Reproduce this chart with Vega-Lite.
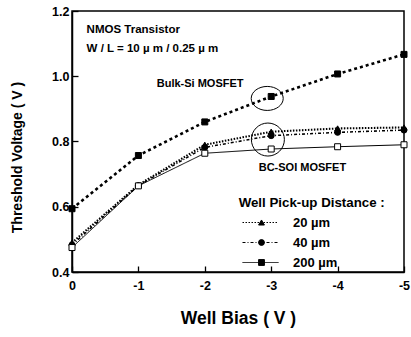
{
  "$schema": "https://vega.github.io/schema/vega-lite/v6.json",
  "width": 332,
  "height": 261,
  "autosize": {"type": "none"},
  "padding": {"left": 72, "top": 11, "right": 7, "bottom": 65},
  "background": "white",
  "config": {
    "view": {"stroke": "black", "strokeWidth": 1.5},
    "font": "Liberation Sans",
    "axis": {"domainColor": "black", "domainWidth": 1.5, "tickColor": "black", "labelColor": "black", "titleColor": "black", "grid": false, "labelFont": "Liberation Sans", "titleFont": "Liberation Sans"}
  },
  "resolve": {"legend": {"shape": "independent"}},
  "datasets": {
    "curves": [
      {"series": "Bulk-Si MOSFET", "bias": 0, "vth": 0.594},
      {"series": "Bulk-Si MOSFET", "bias": -1, "vth": 0.757},
      {"series": "Bulk-Si MOSFET", "bias": -2, "vth": 0.860},
      {"series": "Bulk-Si MOSFET", "bias": -3, "vth": 0.938},
      {"series": "Bulk-Si MOSFET", "bias": -4, "vth": 1.007},
      {"series": "Bulk-Si MOSFET", "bias": -5, "vth": 1.067},
      {"series": "20 µm", "bias": 0, "vth": 0.490},
      {"series": "20 µm", "bias": -1, "vth": 0.667},
      {"series": "20 µm", "bias": -2, "vth": 0.790},
      {"series": "20 µm", "bias": -3, "vth": 0.830},
      {"series": "20 µm", "bias": -4, "vth": 0.840},
      {"series": "20 µm", "bias": -5, "vth": 0.843},
      {"series": "40 µm", "bias": 0, "vth": 0.483},
      {"series": "40 µm", "bias": -1, "vth": 0.665},
      {"series": "40 µm", "bias": -2, "vth": 0.782},
      {"series": "40 µm", "bias": -3, "vth": 0.818},
      {"series": "40 µm", "bias": -4, "vth": 0.828},
      {"series": "40 µm", "bias": -5, "vth": 0.835},
      {"series": "200 µm", "bias": 0, "vth": 0.475},
      {"series": "200 µm", "bias": -1, "vth": 0.664},
      {"series": "200 µm", "bias": -2, "vth": 0.764},
      {"series": "200 µm", "bias": -3, "vth": 0.777},
      {"series": "200 µm", "bias": -4, "vth": 0.784},
      {"series": "200 µm", "bias": -5, "vth": 0.790}
    ],
    "notesLeft": [
      {"bias": -0.22, "vth": 1.141, "label": "NMOS Transistor"},
      {"bias": -0.22, "vth": 1.082, "label": "W / L = 10 µ m / 0.25 µ m"}
    ],
    "legendTitle": [
      {"bias": -2.51, "vth": 0.611, "label": "Well Pick-up Distance :"}
    ],
    "notesCenter": [
      {"bias": -1.93, "vth": 0.975, "label": "Bulk-Si MOSFET"},
      {"bias": -3.47, "vth": 0.720, "label": "BC-SOI MOSFET"}
    ],
    "ellipse": [{"bias": -2.94, "vth": 0.932}],
    "circle": [{"bias": -2.95, "vth": 0.806}]
  },
  "layer": [
    {
      "data": {"name": "curves"},
      "mark": {"type": "line", "color": "black"},
      "encoding": {
        "x": {
          "field": "bias", "type": "quantitative",
          "scale": {"domain": [0, -5], "nice": false, "zero": false},
          "axis": {
            "title": "Well Bias ( V )",
            "titleFontSize": 17.5, "titleFontWeight": "bold", "titlePadding": 18,
            "values": [0, -0.5, -1, -1.5, -2, -2.5, -3, -3.5, -4, -4.5, -5],
            "labelExpr": "datum.value % 1 === 0 ? (datum.value === 0 ? '0' : '-' + abs(datum.value)) : ''",
            "labelFontSize": 12.5, "labelFontWeight": "bold", "labelPadding": 13,
            "labelFlush": false,
            "tickSize": {"condition": {"test": "datum.value % 1 === 0", "value": -6}, "value": -3},
            "tickWidth": 1.3
          }
        },
        "y": {
          "field": "vth", "type": "quantitative",
          "scale": {"domain": [0.4, 1.2], "nice": false, "zero": false},
          "axis": {
            "title": "Threshold Voltage ( V )",
            "titleFontSize": 14, "titleFontWeight": "bold", "titlePadding": 27,
            "titleY": 146,
            "values": [0.4, 0.5, 0.6, 0.7, 0.8, 0.9, 1.0, 1.1, 1.2],
            "labelExpr": "round(datum.value * 10) % 2 === 0 ? format(datum.value, '.1f') : ''",
            "labelFontSize": 12.5, "labelFontWeight": "bold", "labelPadding": 9,
            "labelFlush": false,
            "tickSize": {"condition": {"test": "round(datum.value * 10) % 2 === 0", "value": -6}, "value": -3},
            "tickWidth": 1.3
          }
        },
        "strokeDash": {
          "field": "series", "type": "nominal",
          "scale": {"domain": ["20 µm", "40 µm", "200 µm", "Bulk-Si MOSFET"], "range": [[1.5, 1.5], [3, 2, 1, 2], [1, 0], [3, 3]]},
          "legend": {
            "values": ["20 µm", "40 µm", "200 µm"],
            "title": null,
            "orient": "none", "legendX": 182, "legendY": 205,
            "labelFontSize": 13, "labelFontWeight": "bold", "labelColor": "black", "labelOffset": 26,
            "symbolType": "M-4,0L4,0", "symbolSize": 81, "symbolStrokeColor": "black", "symbolStrokeWidth": 1,
            "rowPadding": 6, "padding": 0
          }
        },
        "strokeWidth": {
          "field": "series", "type": "nominal",
          "scale": {"domain": ["Bulk-Si MOSFET", "20 µm", "40 µm", "200 µm"], "range": [2.6, 1, 1, 1.3]},
          "legend": null
        }
      }
    },
    {
      "data": {"name": "curves"},
      "mark": {"type": "point", "filled": true, "stroke": "black", "strokeWidth": 1, "opacity": 1},
      "encoding": {
        "x": {"field": "bias", "type": "quantitative"},
        "y": {"field": "vth", "type": "quantitative"},
        "shape": {
          "field": "series", "type": "nominal",
          "scale": {"domain": ["Bulk-Si MOSFET", "20 µm", "40 µm", "200 µm"], "range": ["square", "triangle-up", "circle", "square"]},
          "legend": {
            "values": ["20 µm", "40 µm", "200 µm"],
            "title": null,
            "orient": "none", "legendX": 183, "legendY": 205,
            "labelExpr": "''",
            "labelFontSize": 13, "labelFontWeight": "bold", "labelColor": "black", "labelOffset": 26,
            "symbolSize": 34, "symbolFillColor": "black", "symbolStrokeColor": "black", "symbolStrokeWidth": 1,
            "rowPadding": 6, "padding": 0
          }
        },
        "fill": {
          "field": "series", "type": "nominal",
          "scale": {"domain": ["200 µm", "Bulk-Si MOSFET", "20 µm", "40 µm"], "range": ["white", "black", "black", "black"]},
          "legend": null
        },
        "size": {"value": 36}
      }
    },
    {
      "data": {"name": "notesLeft"},
      "mark": {"type": "text", "align": "left", "baseline": "middle", "fontSize": 11.5, "fontWeight": "bold", "color": "black", "font": "Liberation Sans"},
      "encoding": {
        "x": {"field": "bias", "type": "quantitative"},
        "y": {"field": "vth", "type": "quantitative"},
        "text": {"field": "label"}
      }
    },
    {
      "data": {"name": "legendTitle"},
      "mark": {"type": "text", "align": "left", "baseline": "middle", "fontSize": 13.3, "fontWeight": "bold", "color": "black", "font": "Liberation Sans"},
      "encoding": {
        "x": {"field": "bias", "type": "quantitative"},
        "y": {"field": "vth", "type": "quantitative"},
        "text": {"field": "label"}
      }
    },
    {
      "data": {"name": "notesCenter"},
      "mark": {"type": "text", "align": "center", "baseline": "middle", "fontSize": 11, "fontWeight": "bold", "color": "black", "font": "Liberation Sans"},
      "encoding": {
        "x": {"field": "bias", "type": "quantitative"},
        "y": {"field": "vth", "type": "quantitative"},
        "text": {"field": "label"}
      }
    },
    {
      "data": {"name": "ellipse"},
      "mark": {"type": "point", "shape": "M-1,0A1,0.75,0,1,0,1,0A1,0.75,0,1,0,-1,0Z", "size": 1024, "filled": false, "stroke": "black", "strokeWidth": 1, "opacity": 1},
      "encoding": {
        "x": {"field": "bias", "type": "quantitative"},
        "y": {"field": "vth", "type": "quantitative"}
      }
    },
    {
      "data": {"name": "circle"},
      "mark": {"type": "point", "shape": "circle", "size": 1089, "filled": false, "stroke": "black", "strokeWidth": 1, "opacity": 1},
      "encoding": {
        "x": {"field": "bias", "type": "quantitative"},
        "y": {"field": "vth", "type": "quantitative"}
      }
    }
  ]
}
